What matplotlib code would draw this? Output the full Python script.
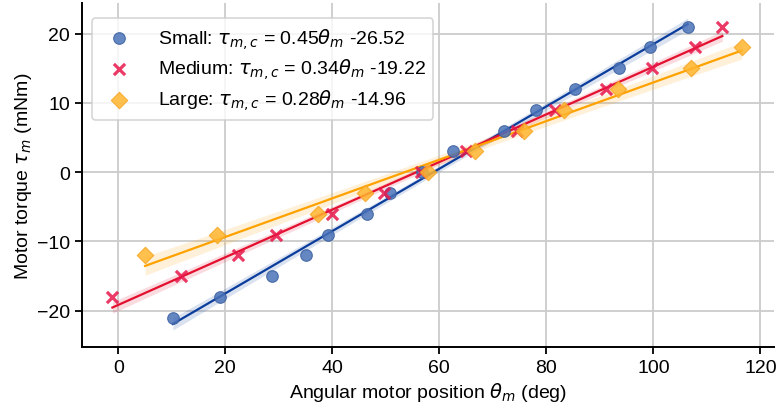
import numpy as np
import matplotlib
matplotlib.use("Agg")
import matplotlib.pyplot as plt

plt.rcParams['font.family'] = ['Liberation Sans', 'DejaVu Sans']
plt.rcParams['mathtext.fontset'] = 'dejavusans'

small_x = [10.2, 19.1, 28.7, 35.0, 39.1, 46.5, 50.7, 56.8, 62.6, 72.0, 78.0, 85.4, 93.6, 99.4, 106.4]
small_y = [-21, -18, -15, -12, -9, -6, -3, 0, 3, 6, 9, 12, 15, 18, 21]
medium_x = [-1.1, 11.7, 22.4, 29.4, 40.0, 49.7, 56.5, 64.9, 74.5, 81.6, 91.1, 99.8, 107.8, 112.9]
medium_y = [-18, -15, -12, -9, -6, -3, 0, 3, 6, 9, 12, 15, 18, 21]
large_x = [5.0, 18.4, 37.3, 46.1, 57.9, 66.7, 75.8, 83.3, 93.3, 107.0, 116.5]
large_y = [-12, -9, -6, -3, 0, 3, 6, 9, 12, 15, 18]

labels = [r"Small: $\tau_{m,c}$ = 0.45$\theta_m$ -26.52",
          r"Medium: $\tau_{m,c}$ = 0.34$\theta_m$ -19.22",
          r"Large: $\tau_{m,c}$ = 0.28$\theta_m$ -14.96"]

fig = plt.figure(figsize=(7.8, 4.14), dpi=100)
ax = fig.add_axes([0.105, 0.16, 0.887, 0.83])

series = [
    (small_x, small_y, 'o', '#4a72b8', '#0b3d9c', 70, dict(edgecolors='#3a5f9f', linewidths=0.8)),
    (medium_x, medium_y, 'x', '#e8174b', '#e3102f', 65, dict(linewidths=2.3)),
    (large_x, large_y, 'D', '#ffb52e', '#ffa200', 70, dict(edgecolors='#f5a623', linewidths=0.8)),
]

for (xs, ys, m, mc, lc, s, kw), lab in zip(series, labels):
    x = np.array(xs); y = np.array(ys)
    n = len(x)
    b, a = np.polyfit(x, y, 1)
    xx = np.linspace(x.min(), x.max(), 100)
    yy = a + b * xx
    resid = y - (a + b * x)
    sigma = np.sqrt(np.sum(resid ** 2) / (n - 2))
    se = sigma * np.sqrt(1.0 / n + (xx - x.mean()) ** 2 / np.sum((x - x.mean()) ** 2))
    tval = 2.16
    ax.fill_between(xx, yy - tval * se, yy + tval * se, color=lc, alpha=0.15, lw=0, zorder=2)
    ax.plot(xx, yy, color=lc, lw=1.6, zorder=3)
    ax.scatter(x, y, marker=m, s=s, color=mc, alpha=0.85, label=lab, zorder=4, **kw)

ax.set_xlim(-6.8, 122.5)
ax.set_ylim(-25.2, 24.4)
ax.set_xticks([0, 20, 40, 60, 80, 100, 120])
ax.set_yticks([-20, -10, 0, 10, 20])
ax.grid(True, color='#cccccc', lw=1.3, zorder=0)
ax.set_axisbelow(True)
for sp in ['top', 'right']:
    ax.spines[sp].set_visible(False)
for sp in ['left', 'bottom']:
    ax.spines[sp].set_linewidth(1.4)
ax.tick_params(labelsize=14, length=5, width=1.3)
ax.set_xlabel(r"Angular motor position $\theta_m$ (deg)", fontsize=14, labelpad=3)
ax.set_ylabel(r"Motor torque $\tau_m$ (mNm)", fontsize=14, labelpad=2)
leg = ax.legend(loc='upper left', fontsize=14, frameon=True, fancybox=True,
                borderpad=0.4, handletextpad=1.0, labelspacing=0.3,
                bbox_to_anchor=(0.0, 0.985))
leg.get_frame().set_edgecolor('#cccccc')
leg.get_frame().set_linewidth(1.2)

fig.savefig('out.png', dpi=100)
